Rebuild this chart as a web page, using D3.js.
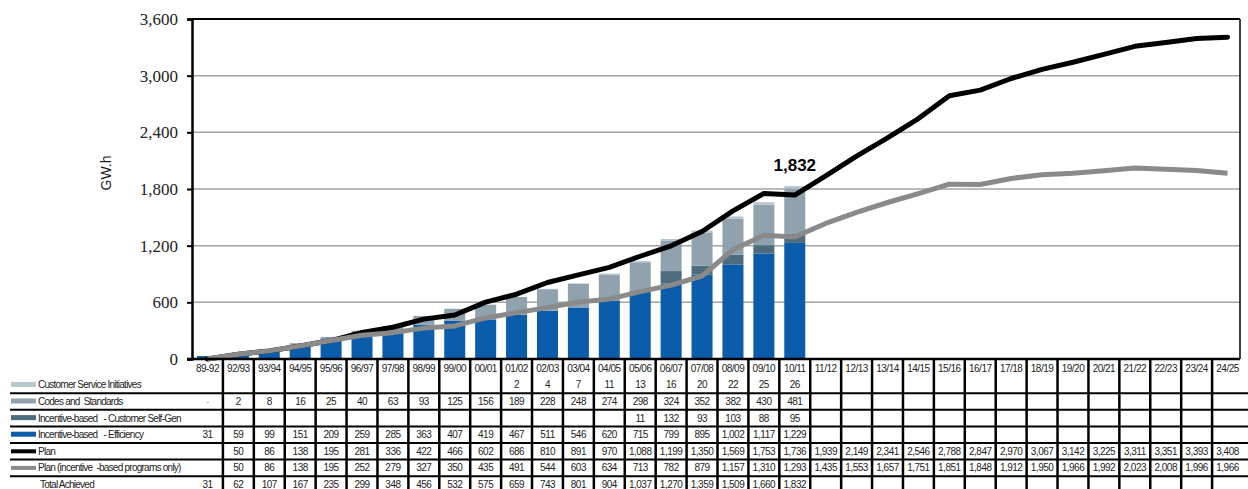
<!DOCTYPE html>
<html>
<head>
<meta charset="utf-8">
<script src="https://cdn.jsdelivr.net/npm/d3@7"></script>
<style>
  html, body { margin: 0; padding: 0; background: #fff; }
  svg { display: block; }
  text { white-space: pre; }
</style>
</head>
<body>
<svg id="chart" width="1248" height="489"></svg>
<script>
// Fiscal periods
const periods = ["89-92","92/93","93/94","94/95","95/96","96/97","97/98","98/99","99/00","00/01",
  "01/02","02/03","03/04","04/05","05/06","06/07","07/08","08/09","09/10","10/11",
  "11/12","12/13","13/14","14/15","15/16","16/17","17/18","18/19","19/20","20/21",
  "21/22","22/23","23/24","24/25"];

// Achieved savings by program type (GW.h)
const customerService = [null,null,null,null,null,null,null,null,null,null,
  2,4,7,11,13,16,20,22,25,26];
const codesStandards = ["-",2,8,16,25,40,63,93,125,156,
  189,228,248,274,298,324,352,382,430,481];
const selfGen = [null,null,null,null,null,null,null,null,null,null,
  null,null,null,null,11,132,93,103,88,95];
const efficiency = [31,59,99,151,209,259,285,363,407,419,
  467,511,546,620,715,799,895,1002,1117,1229];

// Plan targets (GW.h)
const plan = [null,50,86,138,195,281,336,422,466,602,
  686,810,891,970,1088,1199,1350,1569,1753,1736,
  1939,2149,2341,2546,2788,2847,2970,3067,3142,3225,
  3311,3351,3393,3408];
const planIncentive = [null,50,86,138,195,252,279,327,350,435,
  491,544,603,634,713,782,879,1157,1310,1293,
  1435,1553,1657,1751,1851,1848,1912,1950,1966,1992,
  2023,2008,1996,1966];
const totalAchieved = [31,62,107,167,235,299,348,456,532,575,
  659,743,801,904,1037,1270,1359,1509,1660,1832];

const yTicks = [0,600,1200,1800,2400,3000,3600];
const highlightIndex = 19;

const colors = {
  customerService: "#b7c5cf",
  codesStandards: "#8fa2ae",
  selfGen: "#4d6c7e",
  efficiency: "#0b5dab",
  plan: "#000000",
  planIncentive: "#8a8a8a"
};

const svg = d3.select("#chart");
const plotLeft = 192, plotRight = 1243, frameRight = 1240, plotTop = 19, plotBottom = 359;

const col = d3.scaleBand().domain(periods).range([plotLeft, plotRight]);
const xBar = d3.scaleBand().domain(periods).range([plotLeft, plotRight]).paddingInner(0.32).paddingOuter(0.16);
const y = d3.scaleLinear().domain([0, 3600]).range([plotBottom, plotTop]);
const cx = p => col(p) + col.bandwidth() / 2;

// gridlines
svg.append("g")
  .selectAll("line").data(yTicks.filter(t => t > 0 && t < 3600)).join("line")
  .attr("x1", plotLeft).attr("x2", frameRight)
  .attr("y1", d => y(d)).attr("y2", d => y(d))
  .attr("stroke", "#a3a3a3").attr("stroke-width", 1.5);

// stacked bars
const stackRows = efficiency.map((e, i) => ({
  period: periods[i],
  efficiency: e || 0,
  selfGen: selfGen[i] || 0,
  codesStandards: typeof codesStandards[i] === "number" ? codesStandards[i] : 0,
  customerService: customerService[i] || 0
}));
const keys = ["efficiency","selfGen","codesStandards","customerService"];
const stacked = d3.stack().keys(keys)(stackRows);
svg.append("g").selectAll("g").data(stacked).join("g")
  .attr("fill", d => colors[d.key])
  .selectAll("rect").data(d => d).join("rect")
  .attr("x", d => xBar(d.data.period))
  .attr("width", xBar.bandwidth())
  .attr("y", d => y(d[1]))
  .attr("height", d => Math.max(0, y(d[0]) - y(d[1])));

// plan lines, both starting from zero in the first period
const line = d3.line()
  .x((d, i) => cx(periods[i]))
  .y(d => y(d));
svg.append("path")
  .attr("d", line(plan.map(v => v ?? 0)))
  .attr("fill", "none").attr("stroke", colors.plan)
  .attr("stroke-width", 5).attr("stroke-linejoin", "round").attr("stroke-linecap", "round");
svg.append("path")
  .attr("d", line(planIncentive.map(v => v ?? 0)))
  .attr("fill", "none").attr("stroke", colors.planIncentive)
  .attr("stroke-width", 5).attr("stroke-linejoin", "round").attr("stroke-linecap", "butt");

// total label on latest year
svg.append("text")
  .attr("x", cx(periods[highlightIndex]))
  .attr("y", y(totalAchieved[highlightIndex]) - 15)
  .attr("text-anchor", "middle")
  .attr("font-family", "Liberation Sans, Arial, sans-serif")
  .attr("font-weight", "bold").attr("font-size", 17)
  .text(d3.format(",")(totalAchieved[highlightIndex]));

// frame
svg.append("line").attr("x1", plotLeft).attr("x2", frameRight).attr("y1", plotTop).attr("y2", plotTop)
  .attr("stroke", "#000").attr("stroke-width", 2);
svg.append("line").attr("x1", frameRight).attr("x2", frameRight).attr("y1", plotTop).attr("y2", plotBottom)
  .attr("stroke", "#000").attr("stroke-width", 1.5);
svg.append("line").attr("x1", plotLeft - 5).attr("x2", frameRight).attr("y1", plotBottom).attr("y2", plotBottom)
  .attr("stroke", "#000").attr("stroke-width", 2.5);

// y axis
const yAxis = svg.append("g").attr("transform", `translate(${plotLeft},0)`)
  .call(d3.axisLeft(y).tickValues(yTicks).tickFormat(d3.format(",")).tickSize(5).tickPadding(9));
yAxis.select(".domain").attr("stroke-width", 2.5);
yAxis.selectAll(".tick line").attr("stroke-width", 2);
yAxis.selectAll("text")
  .attr("font-family", "Liberation Serif, Times New Roman, serif")
  .attr("font-size", 17).attr("fill", "#222");

svg.append("text")
  .attr("transform", "translate(111,173) rotate(-90)")
  .attr("text-anchor", "middle")
  .attr("font-family", "Liberation Sans, Arial, sans-serif")
  .attr("font-size", 14).attr("fill", "#222")
  .text("GW.h");

// data table
const tableFont = "Liberation Sans, Arial, sans-serif";
const tableSpacing = -0.5;
const rowH = 16.6, tableTop = 360;
const rowMid = r => tableTop + r * rowH + rowH / 2;
const fmt = v => (v == null ? "" : (typeof v === "number" ? d3.format(",")(v) : v));

const rows = [
  { label: "Customer Service Initiatives", values: customerService, swatch: "rect", color: colors.customerService },
  { label: "Codes and  Standards", values: codesStandards, swatch: "rect", color: colors.codesStandards },
  { label: "Incentive-based   - Customer Self-Gen", values: selfGen, swatch: "rect", color: colors.selfGen },
  { label: "Incentive-based   - Efficiency", values: efficiency, swatch: "rect", color: colors.efficiency },
  { label: "Plan", values: plan, swatch: "line", color: colors.plan },
  { label: "Plan (incentive  -based programs only)", values: planIncentive, swatch: "line", color: colors.planIncentive },
  { label: "Total Achieved", values: totalAchieved, swatch: null }
];

const table = svg.append("g");

// horizontal rules between data rows
table.selectAll("line.h").data(d3.range(2, 8)).join("line")
  .attr("class", "h")
  .attr("x1", 10).attr("x2", 1248)
  .attr("y1", r => tableTop + r * rowH).attr("y2", r => tableTop + r * rowH)
  .attr("stroke", "#000").attr("stroke-width", 2);

// column rules
table.selectAll("line.v").data(periods.slice(1)).join("line")
  .attr("class", "v")
  .attr("x1", p => col(p)).attr("x2", p => col(p))
  .attr("y1", tableTop).attr("y2", 489)
  .attr("stroke", "#000").attr("stroke-width", 2.5);

// header labels
table.selectAll("text.hdr").data(periods).join("text")
  .attr("class", "hdr")
  .attr("x", p => cx(p)).attr("y", rowMid(0) + 3.5)
  .attr("text-anchor", "middle")
  .attr("font-family", tableFont).attr("font-size", 10).attr("letter-spacing", tableSpacing)
  .attr("fill", "#222")
  .text(p => p);

rows.forEach((row, r) => {
  const ym = rowMid(r + 1);
  if (row.swatch === "rect") {
    table.append("rect").attr("x", 11).attr("y", ym - 3).attr("width", 25).attr("height", 5)
      .attr("fill", row.color);
  } else if (row.swatch === "line") {
    table.append("line").attr("x1", 11).attr("x2", 36).attr("y1", ym).attr("y2", ym)
      .attr("stroke", row.color).attr("stroke-width", 4);
  }
  table.append("text")
    .attr("x", row.swatch ? 38 : 40).attr("y", ym + 3.5)
    .attr("font-family", tableFont).attr("font-size", 10).attr("letter-spacing", -0.75)
    .attr("fill", "#222")
    .text(row.label);
  table.append("g").selectAll("text").data(row.values).join("text")
    .attr("x", (v, i) => cx(periods[i])).attr("y", ym + 3.5)
    .attr("text-anchor", "middle")
    .attr("font-family", tableFont).attr("font-size", 10).attr("letter-spacing", tableSpacing)
    .attr("fill", v => (typeof v === "number" ? "#222" : "#aaa"))
    .text(fmt);
});
</script>
</body>
</html>
